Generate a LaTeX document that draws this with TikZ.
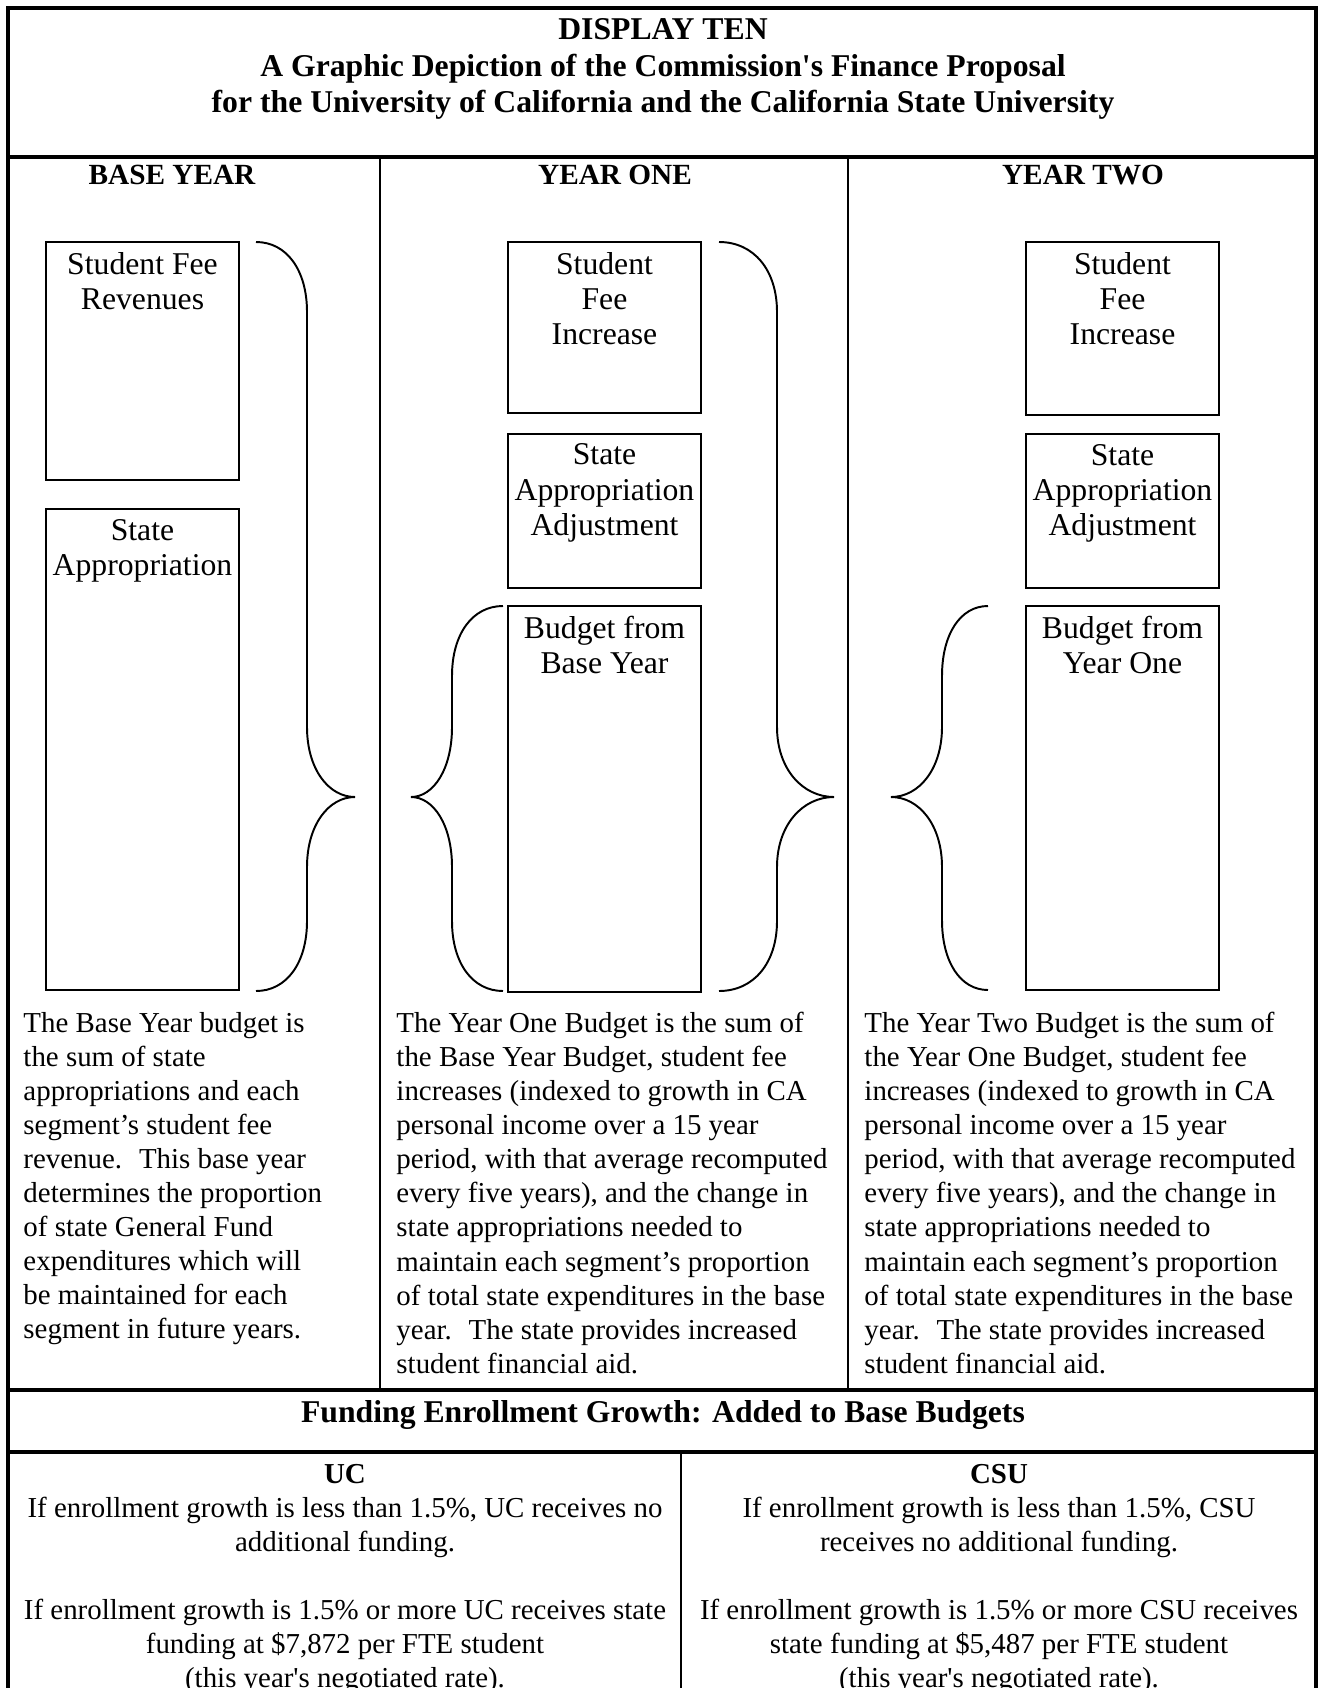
\documentclass[tikz,border=0pt]{standalone}
\usepackage{fontspec}
\setmainfont{Liberation Serif}
\usetikzlibrary{positioning}

\newlength{\pxu}
\setlength{\pxu}{0.41pt}

% curly brace: end x, spine x, tip x, top y, tip y, bottom y
\newcommand{\drawcurly}[6]{%
  \draw[bracepath] (#1,#4)
    .. controls ({#1+0.6*(#2-#1)},#4) and (#2,{#4+28}) .. (#2,{#4+70})
    -- (#2,{#5-70})
    .. controls (#2,{#5-28}) and ({#2+0.45*(#3-#2)},#5) .. (#3,#5)
    .. controls ({#2+0.45*(#3-#2)},#5) and (#2,{#5+28}) .. (#2,{#5+70})
    -- (#2,{#6-70})
    .. controls (#2,{#6-28}) and ({#1+0.6*(#2-#1)},#6) .. (#1,#6);}

\begin{document}
\begin{tikzpicture}[
  x=0.41pt, y=-0.41pt,
  frame/.style = {line width=1.5pt},
  rule/.style = {line width=0.9pt},
  budgetbox/.style = {draw, line width=0.8pt, minimum width=193*\pxu, inner sep=0pt, outer sep=0pt},
  boxtext/.style = {align=center, inner sep=0pt, font=\fontsize{13}{14.5}\selectfont},
  bodytext/.style = {align=left, anchor=north west, inner sep=0pt, font=\fontsize{11.85}{13.95}\selectfont},
  headtext/.style = {align=center, inner sep=0pt, font=\bfseries\fontsize{13}{15}\selectfont},
  colhead/.style = {anchor=base, inner sep=0pt, font=\bfseries\fontsize{12}{14}\selectfont},
  bottomtext/.style = {align=center, anchor=north, inner sep=0pt, font=\fontsize{11.85}{13.9}\selectfont},
  bracepath/.style = {line width=0.8pt},
  node distance=8pt
]
  \useasboundingbox (0,0) rectangle (1319,1688);

  % ======================================================
  % Frame and rules
  % ======================================================
  \draw[frame] (8,1688) -- (8,8) -- (1316,8) -- (1316,1688);
  \draw[frame] (8,157) -- (1316,157);
  \draw[rule] (380,157) -- (380,1390);
  \draw[rule] (848,157) -- (848,1390);
  \draw[frame] (8,1390) -- (1316,1390);
  \draw[frame] (8,1452) -- (1316,1452);
  \draw[rule] (681,1452) -- (681,1688);

  % Title
  \node[headtext, anchor=north] (title) at (663,18) {DISPLAY TEN\\
    A Graphic Depiction of the Commission\textquotesingle s Finance Proposal\\
    for the University of California and the California State University};

  % Column headings
  \node[colhead] (hbase) at (172,185) {BASE YEAR};
  \node[colhead] (hone) at (615,185) {YEAR ONE};
  \node[colhead] (htwo) at (1083,185) {YEAR TWO};

  % ======================================================
  % Base year
  % ======================================================
  \node[budgetbox, anchor=north west, minimum height=238*\pxu] (sfr) at (46,242) {};
  \node[budgetbox, below=12pt of sfr, minimum height=481*\pxu] (sap) {};
  \node[boxtext, below=4pt of sfr.north] (sfrtext) {Student Fee\\Revenues};
  \node[boxtext, below=4pt of sap.north] (saptext) {State\\Appropriation};
  \drawcurly{256}{307}{355}{242}{797}{991}

  % ======================================================
  % Year one
  % ======================================================
  \node[budgetbox, anchor=north west, minimum height=171*\pxu] (sfione) at (508,242) {};
  \node[budgetbox, below=8.5pt of sfione, minimum height=154*\pxu] (saaone) {};
  \node[budgetbox, below=7.3pt of saaone, minimum height=386*\pxu] (bfbone) {};
  \node[boxtext, below=4pt of sfione.north] (sfionetext) {Student\\Fee\\Increase};
  \node[boxtext, below=4pt of saaone.north] (saaonetext) {State\\Appropriation\\Adjustment};
  \node[boxtext, below=4pt of bfbone.north] (bfbonetext) {Budget from\\Base Year};
  \drawcurly{503}{452}{411}{606}{797}{991}
  \drawcurly{719}{777}{834}{242}{797}{991}

  % ======================================================
  % Year two
  % ======================================================
  \node[budgetbox, anchor=north west, minimum height=173*\pxu] (sfitwo) at (1026,242) {};
  \node[budgetbox, below=7.7pt of sfitwo, minimum height=154*\pxu] (saatwo) {};
  \node[budgetbox, below=7.3pt of saatwo, minimum height=384*\pxu] (bfbtwo) {};
  \node[boxtext, below=4pt of sfitwo.north] (sfitwotext) {Student\\Fee\\Increase};
  \node[boxtext, below=4pt of saatwo.north] (saatwotext) {State\\Appropriation\\Adjustment};
  \node[boxtext, below=4pt of bfbtwo.north] (bfbtwotext) {Budget from\\Year One};
  \drawcurly{988}{942}{891}{606}{797}{990}

  % Explanations
  \node[bodytext] (basenote) at (23,1012) {The Base Year budget is\\
    the sum of state\\
    appropriations and each\\
    segment’s student fee\\
    revenue.~ This base year\\
    determines the proportion\\
    of state General Fund\\
    expenditures which will\\
    be maintained for each\\
    segment in future years.};
  \node[bodytext] (onenote) at (396,1012) {The Year One Budget is the sum of\\
    the Base Year Budget, student fee\\
    increases (indexed to growth in CA\\
    personal income over a 15 year\\
    period, with that average recomputed\\
    every five years), and the change in\\
    state appropriations needed to\\
    maintain each segment’s proportion\\
    of total state expenditures in the base\\
    year.~ The state provides increased\\
    student financial aid.};
  \node[bodytext] (twonote) at (864,1012) {The Year Two Budget is the sum of\\
    the Year One Budget, student fee\\
    increases (indexed to growth in CA\\
    personal income over a 15 year\\
    period, with that average recomputed\\
    every five years), and the change in\\
    state appropriations needed to\\
    maintain each segment’s proportion\\
    of total state expenditures in the base\\
    year.~ The state provides increased\\
    student financial aid.};

  % ======================================================
  % Enrollment growth
  % ======================================================
  \node[headtext, anchor=base] (funding) at (663,1422) {Funding Enrollment Growth: Added to Base Budgets};

  \node[bottomtext] (uc) at (345,1464) {\textbf{UC}\\
    If enrollment growth is less than 1.5\%, UC receives no\\
    additional funding.\\[13.9pt]
    If enrollment growth is 1.5\% or more UC receives state\\
    funding at \$7,872 per FTE student\\
    (this year\textquotesingle s negotiated rate).};
  \node[bottomtext] (csu) at (999,1464) {\textbf{CSU}\\
    If enrollment growth is less than 1.5\%, CSU\\
    receives no additional funding.\\[13.9pt]
    If enrollment growth is 1.5\% or more CSU receives\\
    state funding at \$5,487 per FTE student\\
    (this year\textquotesingle s negotiated rate).};

\end{tikzpicture}
\end{document}
